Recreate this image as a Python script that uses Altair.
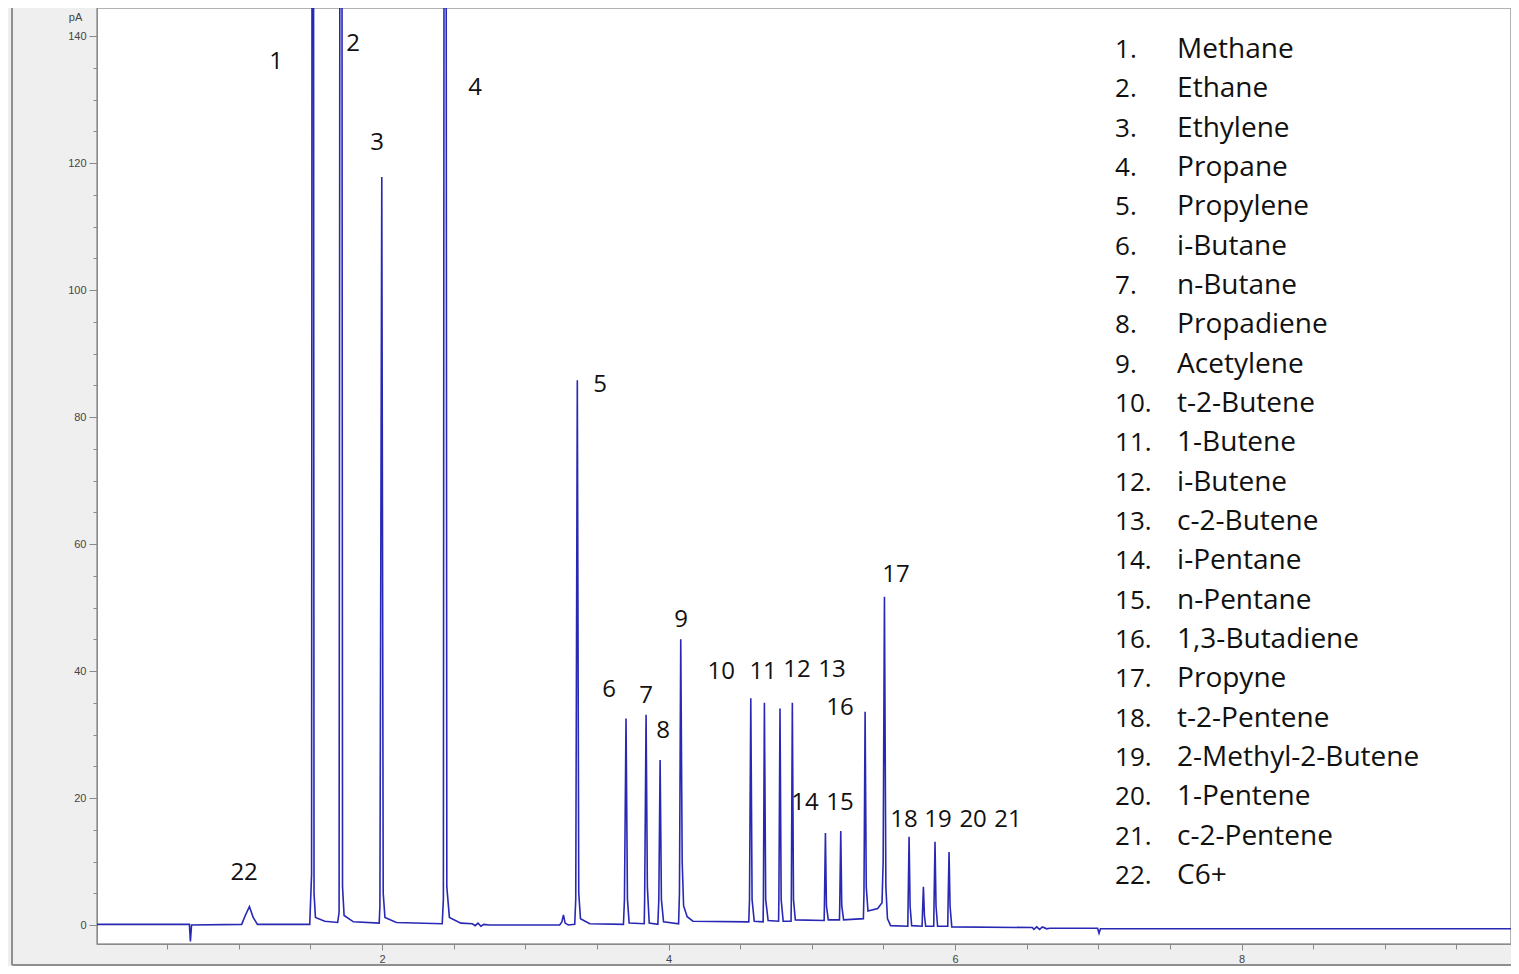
import altair as alt
import pandas as pd

# ---- chromatogram trace (retention time in min, signal in pA) ----
trace_time = [
    0.01, 0.655, 0.662, 0.670, 1.020, 1.045, 1.074, 1.100, 1.130,
    1.495, 1.508, 1.516, 1.525, 1.535, 1.600, 1.690,
    1.700, 1.714, 1.724, 1.735, 1.800, 1.980,
    1.985, 1.998, 2.008, 2.020, 2.100, 2.420,
    2.428, 2.440, 2.452, 2.470, 2.550,
    2.630, 2.650, 2.670, 2.690, 2.710, 2.750,
    3.240, 3.255, 3.266, 3.278, 3.300,
    3.345, 3.352, 3.363, 3.373, 3.385, 3.450, 3.685,
    3.692, 3.703, 3.713, 3.725, 3.830,
    3.833, 3.843, 3.852, 3.865, 3.925,
    3.932, 3.941, 3.950, 3.965, 4.070,
    4.076, 4.085, 4.095, 4.105, 4.130, 4.170, 4.560,
    4.565, 4.574, 4.583, 4.598, 4.660,
    4.662, 4.669, 4.678, 4.695, 4.768,
    4.770, 4.778, 4.786, 4.800, 4.855,
    4.857, 4.864, 4.872, 4.885, 5.086,
    5.088, 5.095, 5.102, 5.115, 5.193,
    5.195, 5.202, 5.209, 5.222, 5.360,
    5.364, 5.372, 5.380, 5.392, 5.460, 5.490,
    5.498, 5.507, 5.517, 5.528, 5.550, 5.670,
    5.672, 5.679, 5.686, 5.697, 5.770,
    5.772, 5.779, 5.786, 5.795, 5.851,
    5.853, 5.860, 5.867, 5.878, 5.949,
    5.951, 5.958, 5.965, 5.977, 6.540,
    6.550, 6.570, 6.590, 6.610, 6.640, 6.660,
    6.995, 7.005, 7.015, 9.937,
]
trace_signal = [
    0.1, 0.1, -2.6, 0.0, 0.1, 1.5, 2.9, 1.2, 0.1,
    0.1, 8.0, 400.0, 5.0, 1.2, 0.6, 0.4,
    2.0, 400.0, 6.0, 1.5, 0.5, 0.3,
    3.0, 117.8, 5.0, 1.2, 0.4, 0.2,
    4.0, 400.0, 6.0, 1.2, 0.3,
    0.2, -0.1, 0.3, -0.2, 0.1, 0.0,
    0.0, 0.5, 1.6, 0.3, 0.0,
    0.1, 4.0, 85.8, 5.0, 1.0, 0.2, 0.1,
    4.0, 32.5, 4.0, 0.3, 0.2,
    4.0, 33.1, 6.0, 0.3, 0.1,
    4.0, 26.0, 4.0, 0.5, 0.2,
    5.0, 45.0, 10.0, 3.0, 1.3, 0.6, 0.5,
    4.0, 35.7, 4.0, 0.6, 0.5,
    4.0, 35.0, 4.0, 0.7, 0.6,
    4.0, 34.1, 4.0, 0.6, 0.6,
    4.0, 35.0, 4.0, 0.8, 0.7,
    3.0, 14.5, 3.0, 0.8, 0.8,
    3.0, 14.8, 3.0, 0.8, 1.0,
    5.0, 33.6, 6.0, 2.2, 2.6, 3.5,
    10.0, 51.7, 6.0, 1.0, -0.1, -0.2,
    3.0, 13.9, 3.0, -0.1, -0.2,
    1.5, 6.0, 1.5, -0.2, -0.2,
    3.0, 13.1, 3.0, -0.2, -0.2,
    3.0, 11.5, 3.0, -0.3, -0.4,
    -0.7, -0.3, -0.7, -0.3, -0.6, -0.5,
    -0.5, -1.3, -0.6, -0.6,
]

# ---- peak number labels ----
peak_labels = [str(i) for i in range(1, 23)]
label_time = [1.260, 1.797, 1.965, 2.649, 3.522, 3.585, 3.843, 3.962, 4.087, 4.367, 4.660,
              4.897, 5.141, 4.953, 5.197, 5.197, 5.588, 5.644, 5.881, 6.126, 6.370, 1.037]
label_signal = [135.9, 138.7, 123.1, 131.8, 85.0, 37.0, 36.1, 30.6, 48.0, 39.8, 39.8,
                40.2, 40.2, 19.2, 19.2, 34.2, 55.1, 16.5, 16.5, 16.5, 16.5, 8.2]

# ---- compound key ----
compound_numbers = [f"{i}." for i in range(1, 23)]
compound_names = [
    "Methane", "Ethane", "Ethylene", "Propane", "Propylene", "i-Butane", "n-Butane",
    "Propadiene", "Acetylene", "t-2-Butene", "1-Butene", "i-Butene", "c-2-Butene",
    "i-Pentane", "n-Pentane", "1,3-Butadiene", "Propyne", "t-2-Pentene",
    "2-Methyl-2-Butene", "1-Pentene", "c-2-Pentene", "C6+",
]

# tick values
x_major = [2, 4, 6, 8]
x_minor = [i * 0.5 for i in range(1, 20)]
y_major = [0, 20, 40, 60, 80, 100, 120, 140]
y_minor = list(range(0, 145, 5))

W, H = 1414, 936
X_DOMAIN = [0.01, 0.01 + W / 143.25]
Y_DOMAIN = [-(H - 917) / 6.35, 917 / 6.35]
LINE = "#2828b4"
AXIS = "#8a8a8a"
LAB = "#444444"

trace = pd.DataFrame({"t": trace_time, "s": trace_signal})
labels = pd.DataFrame({"lab": peak_labels, "t": label_time, "s": label_signal})
key = pd.DataFrame({"num": compound_numbers, "name": compound_names})
key["row"] = range(len(key))
key["s"] = 137.8 - 6.194 * key["row"]
key["t_num"] = 7.117
key["t_name"] = 7.55

xs = alt.Scale(domain=X_DOMAIN, nice=False, zero=False)
ys = alt.Scale(domain=Y_DOMAIN, nice=False, zero=False)

x_axis = alt.Axis(values=x_major, title=None, grid=False, tickSize=6, tickColor=AXIS,
                  domainColor=AXIS, labelColor=LAB, labelFontSize=11,
                  labelFont="Liberation Sans", labelPadding=3, orient="bottom")
y_axis = alt.Axis(values=y_major, title="pA", titleAngle=0, titleX=-22, titleY=9,
                  titleFontSize=11, titleFontWeight="normal", titleColor=LAB,
                  titleFont="Liberation Sans", titleAlign="center", titleBaseline="middle",
                  grid=False, tickSize=8, tickColor=AXIS, domainColor=AXIS,
                  labelColor=LAB, labelFontSize=11, labelFont="Liberation Sans",
                  labelPadding=3, orient="left")
x_axis_minor = alt.Axis(values=x_minor, title=None, grid=False, labels=False, domain=False,
                        tickSize=5, tickColor=AXIS, orient="bottom")
y_axis_minor = alt.Axis(values=y_minor, title=None, grid=False, labels=False, domain=False,
                        tickSize=4, tickColor=AXIS, orient="left")

line = alt.Chart(trace).mark_line(clip=True, color=LINE, strokeWidth=1.6).encode(
    x=alt.X("t:Q", scale=xs, axis=x_axis),
    y=alt.Y("s:Q", scale=ys, axis=y_axis),
)

minor = alt.Chart(trace).mark_line(clip=True, strokeOpacity=0).encode(
    x=alt.X("t:Q", scale=xs, axis=x_axis_minor),
    y=alt.Y("s:Q", scale=ys, axis=y_axis_minor),
)

peak_text = alt.Chart(labels).mark_text(
    font="Open Sans", fontSize=24, color="#111111", align="center", baseline="middle"
).encode(x=alt.X("t:Q", scale=xs, axis=None), y=alt.Y("s:Q", scale=ys, axis=None),
         text="lab:N")

key_num = alt.Chart(key).mark_text(
    font="Open Sans", fontSize=26, color="#111111", align="left", baseline="middle"
).encode(x=alt.X("t_num:Q", scale=xs, axis=None), y=alt.Y("s:Q", scale=ys, axis=None),
         text="num:N")

key_name = alt.Chart(key).mark_text(
    font="Open Sans", fontSize=28, color="#111111", align="left", baseline="middle"
).encode(x=alt.X("t_name:Q", scale=xs, axis=None), y=alt.Y("s:Q", scale=ys, axis=None),
         text="name:N")

frame_left = alt.Chart(trace).mark_rule(color="#8f8f8f", strokeWidth=1.5).encode(
    x=alt.value(-85), y=alt.value(0), y2=alt.value(H + 21))
frame_bottom = alt.Chart(trace).mark_rule(color="#8f8f8f", strokeWidth=1.5).encode(
    x=alt.value(-85), x2=alt.value(W), y=alt.value(H + 21))

chart = alt.layer(
    frame_left, frame_bottom, minor, line, peak_text, key_num, key_name
).resolve_axis(x="independent", y="independent").properties(
    width=W, height=H,
    autosize=alt.AutoSizeParams(type="none"),
    padding={"left": 89, "top": 0, "right": 0, "bottom": 22},
    background="#efefef",
).configure_view(fill="white", stroke="#9a9a9a", strokeWidth=1.5)

chart.save("out.html", embed_options={"renderer": "svg", "actions": False})
